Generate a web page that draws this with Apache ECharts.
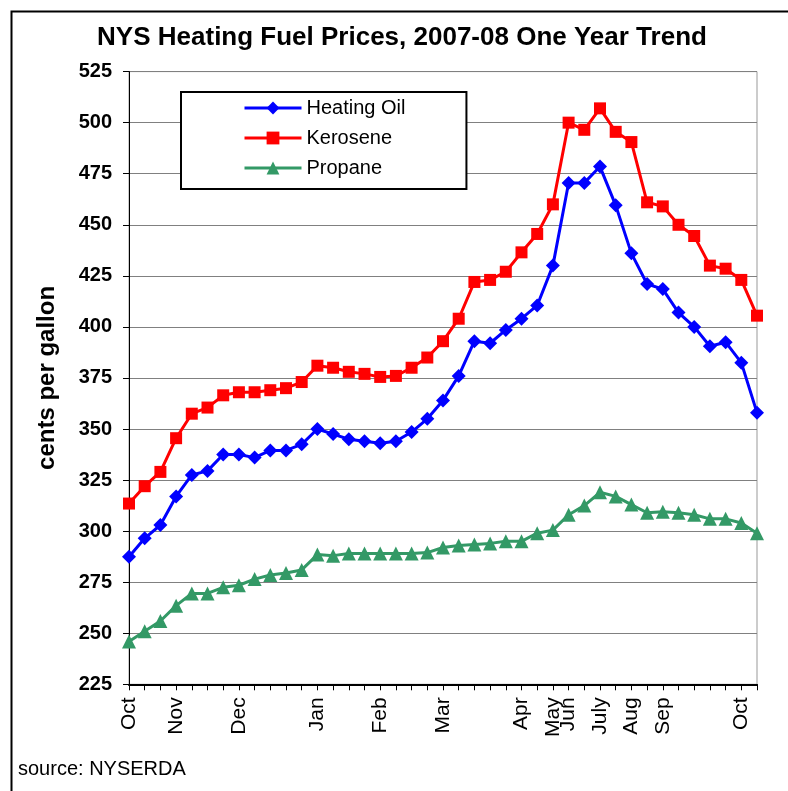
<!DOCTYPE html>
<html>
<head>
<meta charset="utf-8">
<title>NYS Heating Fuel Prices</title>
<script src="https://cdn.jsdelivr.net/npm/echarts@6/dist/echarts.min.js"></script>
<style>
  html, body { margin: 0; padding: 0; background: #fff; }
  #chart { width: 788px; height: 791px; }
</style>
</head>
<body>
<div id="chart"></div>
<script>
// weekly points, Oct 2007 - Oct 2008; only some weeks carry a month label
var categories = ['Oct', '', '', 'Nov', '', '', '', 'Dec', '', '', '', '', 'Jan', '', '', '', 'Feb', '', '', '', 'Mar', '', '', '', '', 'Apr', '', 'May', 'Jun', '', 'July', '', 'Aug', '', 'Sep', '', '', '', '', 'Oct', '']
var heatingOil = [287.5, 296.5, 303, 317, 327.5, 329.5, 337.5, 337.5, 336, 339.5, 339.5, 342.5, 350, 347.5, 345, 344, 343, 344, 348.5, 355, 364, 376, 393, 392, 398.5, 404, 410.5, 430, 470.5, 470.5, 478.5, 459.5, 436, 421, 418.5, 407, 400, 390.5, 392.5, 382.5, 358]
var kerosene = [313.5, 322, 329, 345.5, 357.5, 360.5, 366.5, 368, 368, 369, 370, 373, 381, 380, 378, 377, 375.5, 376, 380, 385, 393, 404, 422, 423, 427, 436.5, 445.5, 460, 500, 496.5, 507, 495.5, 490.5, 461, 459, 450, 444.5, 430, 428.5, 423, 405.5]
var propane = [246, 251, 256, 263.5, 269.5, 269.5, 272.5, 273.5, 276.5, 278.5, 279.5, 281, 288.5, 288, 289, 289, 289, 289, 289, 289.5, 292, 293, 293.5, 294, 295, 295, 299, 300.5, 308, 312.5, 319, 317, 313, 309, 309.5, 309, 308, 306, 306, 304, 299]

var chart = echarts.init(document.getElementById('chart'))
var font = 'Liberation Sans, Arial, sans-serif'

function lineSeries (name, data, color, symbol, size) {
  return {
    name: name,
    type: 'line',
    data: data,
    symbol: symbol,
    symbolSize: size,
    showAllSymbol: true,
    color: color,
    lineStyle: { color: color, width: 3 },
    itemStyle: { color: color },
    emphasis: { disabled: true }
  }
}

var option = {
  backgroundColor: '#fff',
  animation: false,
  legend: {
    orient: 'vertical',
    left: 181,
    top: 92,
    padding: [6, 61, 11, 62],
    itemGap: 10,
    itemWidth: 57,
    itemHeight: 16,
    backgroundColor: '#fff',
    borderColor: '#000',
    borderWidth: 2,
    borderRadius: 0,
    lineStyle: { width: 3 },
    textStyle: { fontFamily: font, fontSize: 20, color: '#000' },
    data: ['Heating Oil', 'Kerosene', 'Propane']
  },
  grid: {
    left: 129,
    right: 31,
    top: 71.6,
    bottom: 106.7,
    show: true,
    borderColor: '#999',
    borderWidth: 1
  },
  xAxis: {
    type: 'category',
    boundaryGap: false,
    data: categories,
    axisLine: { lineStyle: { color: '#000', width: 2 } },
    axisTick: { show: true, interval: 0, length: 6, lineStyle: { color: '#000', width: 1 } },
    axisLabel: { interval: 0, rotate: 90, margin: 13, fontFamily: font, fontSize: 21, color: '#000' },
    splitLine: { show: false }
  },
  yAxis: {
    type: 'value',
    min: 225,
    max: 525,
    interval: 25,
    name: 'cents per gallon',
    nameLocation: 'middle',
    nameRotate: 90,
    nameGap: 70,
    nameTextStyle: { fontFamily: font, fontSize: 24, fontWeight: 'bold', color: '#000' },
    axisLine: { show: true, lineStyle: { color: '#000', width: 1 } },
    axisTick: { show: true, length: 6, lineStyle: { color: '#000' } },
    axisLabel: { margin: 17, fontFamily: font, fontSize: 20, fontWeight: 'bold', color: '#000' },
    splitLine: { lineStyle: { color: '#808080', width: 1 } }
  },
  graphic: [
    {
      // outer chart frame, cut off on the right and bottom like the original
      type: 'rect',
      left: 9,
      top: 9,
      shape: { width: 800, height: 800 },
      style: { fill: 'none', stroke: '#000', lineWidth: 2 },
      silent: true,
      z: 100
    },
    {
      type: 'text',
      x: 402,
      y: 38,
      style: {
        text: 'NYS Heating Fuel Prices, 2007-08 One Year Trend',
        fontFamily: font,
        fontSize: 26,
        fontWeight: 'bold',
        fill: '#000',
        align: 'center',
        verticalAlign: 'middle'
      }
    },
    {
      type: 'text',
      left: 18,
      top: 759,
      style: { text: 'source: NYSERDA', fontFamily: font, fontSize: 20, fill: '#000' }
    }
  ],
  series: [
    lineSeries('Heating Oil', heatingOil, '#0000FF', 'diamond', 14),
    lineSeries('Kerosene', kerosene, '#FF0000', 'rect', 12),
    lineSeries('Propane', propane, '#339966', 'triangle', 14)
  ]
}

chart.setOption(option)
</script>
</body>
</html>
